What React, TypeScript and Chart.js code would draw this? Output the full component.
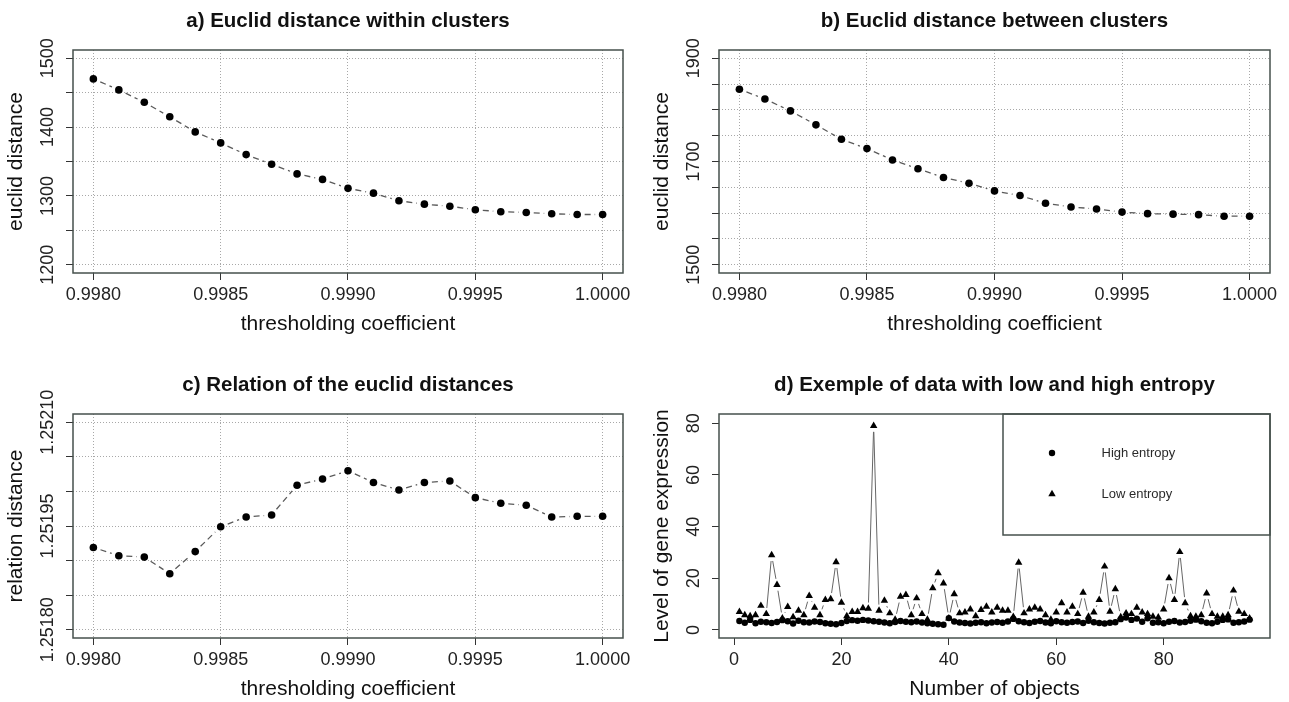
import React, { useEffect, useRef } from "react";
import { Chart, registerables } from "chart.js";

Chart.register(...registerables);

const FONT = '"Liberation Sans", Arial, Helvetica, sans-serif';

// ---------- data ----------
const thresholds = [
  0.998, 0.9981, 0.9982, 0.9983, 0.9984, 0.9985, 0.9986, 0.9987, 0.9988, 0.9989, 0.999,
  0.9991, 0.9992, 0.9993, 0.9994, 0.9995, 0.9996, 0.9997, 0.9998, 0.9999, 1.0,
];
const withinDistance = [
  1470, 1454, 1436, 1415, 1393, 1377, 1360, 1346, 1332, 1324, 1311, 1304, 1293, 1288, 1285,
  1280, 1277, 1276, 1274, 1273, 1273,
];
const betweenDistance = [
  1840, 1821, 1798, 1771, 1743, 1725, 1703, 1686, 1669, 1658, 1643, 1634, 1619, 1612, 1608,
  1602, 1599, 1598, 1597, 1594, 1594,
];
const relationDistance = [
  1.251919, 1.251907, 1.251905, 1.251881, 1.251913, 1.251949, 1.251963, 1.251966, 1.252009,
  1.252018, 1.25203, 1.252013, 1.252002, 1.252013, 1.252015, 1.251991, 1.251983, 1.25198,
  1.251963, 1.251964, 1.251964,
];

const objectIndex = [
  1, 2, 3, 4, 5, 6, 7, 8, 9, 10, 11, 12, 13, 14, 15, 16, 17, 18, 19, 20, 21, 22, 23, 24,
  25, 26, 27, 28, 29, 30, 31, 32, 33, 34, 35, 36, 37, 38, 39, 40, 41, 42, 43, 44, 45, 46, 47, 48,
  49, 50, 51, 52, 53, 54, 55, 56, 57, 58, 59, 60, 61, 62, 63, 64, 65, 66, 67, 68, 69, 70, 71, 72,
  73, 74, 75, 76, 77, 78, 79, 80, 81, 82, 83, 84, 85, 86, 87, 88, 89, 90, 91, 92, 93, 94, 95, 96,
];
const highEntropy = [
  3.5, 2.8, 3.9, 2.6, 3.2, 3.0, 2.7, 3.1, 3.8, 3.4, 2.5, 3.6, 3.0, 2.9, 3.3, 3.1, 2.6, 2.4, 2.2, 2.7,
  3.5, 3.8, 3.6, 3.9, 3.7, 3.4, 3.2, 2.9, 2.6, 3.1, 3.5, 3.2, 3.0, 3.3, 2.9, 2.6, 2.4, 2.2, 2.0, 4.6,
  3.3, 2.9, 2.7, 2.5, 2.8, 3.0, 2.6, 2.9, 3.1, 2.8, 3.3, 4.3, 3.4, 3.0, 2.7, 3.2, 3.5, 2.9, 2.6, 3.4,
  3.0, 2.8, 3.1, 3.3, 2.7, 3.6, 3.0, 2.7, 2.5, 2.8, 3.0, 4.2, 4.8, 3.9, 4.4, 3.2, 4.5, 2.8, 3.0, 2.6,
  3.2, 3.5, 2.9, 3.1, 3.6, 4.0, 3.4, 2.8, 2.6, 3.2, 3.9, 4.1, 2.8, 3.0, 3.3, 4.0,
];
const lowEntropy = [
  7.0, 5.8, 5.4, 5.8, 9.4, 6.2, 29.0, 17.5, 4.5, 9.0, 5.0, 7.5, 5.8, 13.2, 8.7, 5.8, 11.7, 12.0, 26.3, 10.6,
  5.4, 7.0, 7.0, 8.5, 8.3, 79.0, 7.5, 11.4, 6.5, 4.0, 12.9, 13.6, 5.8, 12.3, 6.2, 4.0, 16.2, 22.0, 18.1, 4.5,
  13.9, 6.5, 6.8, 8.0, 5.4, 7.8, 9.1, 6.8, 8.7, 7.5, 7.5, 5.1, 26.1, 6.5, 8.0, 8.7, 8.0, 5.8, 4.0, 6.8,
  10.4, 6.8, 9.1, 6.2, 14.5, 5.2, 6.8, 11.7, 24.6, 7.1, 15.8, 5.0, 6.5, 6.2, 8.7, 6.8, 6.2, 5.2, 4.9, 8.0,
  20.1, 11.7, 30.2, 10.4, 5.4, 5.2, 5.8, 14.2, 6.2, 5.2, 5.2, 5.8, 15.3, 7.1, 6.2, 4.5,
];

// ---------- axis ticks ----------
const thresholdTicks = [0.998, 0.9985, 0.999, 0.9995, 1.0];
const withinTicks = [1200, 1250, 1300, 1350, 1400, 1450, 1500];
const withinLabels = [1200, 1300, 1400, 1500];
const betweenTicks = [1500, 1550, 1600, 1650, 1700, 1750, 1800, 1850, 1900];
const betweenLabels = [1500, 1700, 1900];
const relationTicks = [1.2518, 1.25185, 1.2519, 1.25195, 1.252, 1.25205, 1.2521];
const relationLabels = [1.2518, 1.25195, 1.2521];
const objectTicks = [0, 20, 40, 60, 80];
const expressionTicks = [0, 20, 40, 60, 80];

// ---------- plugins ----------
const gapLinePlugin = {
  id: "gapLine",
  beforeDatasetsDraw(chart: any) {
    const ctx = chart.ctx;
    chart.data.datasets.forEach((ds: any, di: number) => {
      const cfg = ds.gapLine;
      if (!cfg) return;
      const pts = chart.getDatasetMeta(di).data;
      ctx.save();
      ctx.strokeStyle = cfg.color;
      ctx.lineWidth = cfg.width;
      ctx.setLineDash(cfg.dash || []);
      ctx.beginPath();
      for (let i = 0; i < pts.length - 1; i++) {
        const a = pts[i];
        const b = pts[i + 1];
        const dx = b.x - a.x;
        const dy = b.y - a.y;
        const d = Math.hypot(dx, dy);
        if (d <= 2 * cfg.gap) continue;
        const ux = dx / d;
        const uy = dy / d;
        ctx.moveTo(a.x + ux * cfg.gap, a.y + uy * cfg.gap);
        ctx.lineTo(b.x - ux * cfg.gap, b.y - uy * cfg.gap);
      }
      ctx.stroke();
      ctx.restore();
    });
  },
};

const plotBoxPlugin = {
  id: "plotBox",
  afterDraw(chart: any) {
    const { left, top, right, bottom } = chart.chartArea;
    const ctx = chart.ctx;
    ctx.save();
    ctx.strokeStyle = "#46504c";
    ctx.lineWidth = 1.5;
    ctx.strokeRect(left, top, right - left, bottom - top);
    ctx.restore();
  },
};

const rLegendPlugin = {
  id: "rLegend",
  afterDraw(chart: any, _args: any, opts: any) {
    if (!opts || !opts.display) return;
    const { right, top } = chart.chartArea;
    const ctx = chart.ctx;
    const L = right - opts.width;
    ctx.save();
    ctx.strokeStyle = "#46504c";
    ctx.lineWidth = 1.5;
    ctx.strokeRect(L, top, opts.width, opts.height);
    chart.data.datasets.forEach((ds: any, i: number) => {
      const y = top + opts.rowY[i];
      const x = L + opts.symbolX;
      ctx.fillStyle = "#000";
      ctx.beginPath();
      if (ds.pointStyle === "triangle") {
        const r = ds.pointRadius;
        for (let k = 0; k < 3; k++) {
          const ang = (k * 2 * Math.PI) / 3;
          const px = x + Math.sin(ang) * r;
          const py = y - Math.cos(ang) * r;
          if (k === 0) ctx.moveTo(px, py);
          else ctx.lineTo(px, py);
        }
        ctx.closePath();
      } else {
        ctx.arc(x, y, ds.pointRadius, 0, Math.PI * 2);
      }
      ctx.fill();
      ctx.fillStyle = "#2a2a2a";
      ctx.font = `${opts.fontSize}px ${FONT}`;
      ctx.textBaseline = "middle";
      ctx.textAlign = "left";
      ctx.fillText(ds.label, L + opts.textX, y);
    });
    ctx.restore();
  },
};

// ---------- panel definitions ----------
const near = (list: number[], v: number) => list.some((t) => Math.abs(t - v) < 1e-9);

const pairs = (xs: number[], ys: number[]) => xs.map((x, i) => ({ x, y: ys[i] }));

const dottedSeries = (label: string, ys: number[]) => ({
  label,
  data: pairs(thresholds, ys),
  pointStyle: "circle",
  pointRadius: 3.8,
  pointBackgroundColor: "#000",
  pointBorderColor: "#000",
  pointBorderWidth: 0,
  showLine: false,
  gapLine: { color: "#5a5a5a", width: 1.3, dash: [6, 4], gap: 7.5 },
});

type Panel = {
  key: string;
  title: string;
  xTitle: string;
  yTitle: string;
  left: number;
  top: number;
  width: number;
  height: number;
  yAxisWidth: number;
  padRight: number;
  xMin: number;
  xMax: number;
  yMin: number;
  yMax: number;
  xTicks: number[];
  xLabels: number[];
  yTicks: number[];
  yLabels: number[];
  xFmt: (v: number) => string;
  yFmt: (v: number) => string;
  grid: boolean;
  yTitlePad: number;
  yTickPad: number;
  datasets: any[];
  legend?: boolean;
};

const panels: Panel[] = [
  {
    key: "a",
    title: "a) Euclid distance within clusters",
    xTitle: "thresholding coefficient",
    yTitle: "euclid distance",
    left: 0,
    top: 0,
    width: 644,
    height: 337,
    yAxisWidth: 73,
    padRight: 21,
    xMin: 0.99792,
    xMax: 1.00008,
    yMin: 1188,
    yMax: 1512,
    xTicks: thresholdTicks,
    xLabels: thresholdTicks,
    yTicks: withinTicks,
    yLabels: withinLabels,
    xFmt: (v) => v.toFixed(4),
    yFmt: (v) => String(Math.round(v)),
    grid: true,
    yTitlePad: 3.4,
    yTickPad: -2,
    datasets: [dottedSeries("within", withinDistance)],
  },
  {
    key: "b",
    title: "b) Euclid distance between clusters",
    xTitle: "thresholding coefficient",
    yTitle: "euclid distance",
    left: 644,
    top: 0,
    width: 645,
    height: 337,
    yAxisWidth: 75,
    padRight: 19,
    xMin: 0.99792,
    xMax: 1.00008,
    yMin: 1484,
    yMax: 1916,
    xTicks: thresholdTicks,
    xLabels: thresholdTicks,
    yTicks: betweenTicks,
    yLabels: betweenLabels,
    xFmt: (v) => v.toFixed(4),
    yFmt: (v) => String(Math.round(v)),
    grid: true,
    yTitlePad: 5.4,
    yTickPad: -2,
    datasets: [dottedSeries("between", betweenDistance)],
  },
  {
    key: "c",
    title: "c) Relation of the euclid distances",
    xTitle: "thresholding coefficient",
    yTitle: "relation distance",
    left: 0,
    top: 364,
    width: 644,
    height: 338,
    yAxisWidth: 73,
    padRight: 21,
    xMin: 0.99792,
    xMax: 1.00008,
    yMin: 1.251788,
    yMax: 1.252112,
    xTicks: thresholdTicks,
    xLabels: thresholdTicks,
    yTicks: relationTicks,
    yLabels: relationLabels,
    xFmt: (v) => v.toFixed(4),
    yFmt: (v) => v.toFixed(5),
    grid: true,
    yTitlePad: 3.4,
    yTickPad: -14.5,
    datasets: [dottedSeries("relation", relationDistance)],
  },
  {
    key: "d",
    title: "d) Exemple of data with low and high entropy",
    xTitle: "Number of objects",
    yTitle: "Level of gene expression",
    left: 644,
    top: 364,
    width: 645,
    height: 338,
    yAxisWidth: 75,
    padRight: 19,
    xMin: -2.8,
    xMax: 99.8,
    yMin: -3.1,
    yMax: 83.6,
    xTicks: objectTicks,
    xLabels: objectTicks,
    yTicks: expressionTicks,
    yLabels: expressionTicks,
    xFmt: (v) => String(Math.round(v)),
    yFmt: (v) => String(Math.round(v)),
    grid: false,
    yTitlePad: 5.4,
    yTickPad: 8,
    legend: true,
    datasets: [
      {
        label: "High entropy",
        data: pairs(objectIndex, highEntropy),
        pointStyle: "circle",
        pointRadius: 3.2,
        pointBackgroundColor: "#000",
        pointBorderColor: "#000",
        pointBorderWidth: 0,
        showLine: false,
        order: 2,
        gapLine: { color: "#666", width: 1, dash: [], gap: 6 },
      },
      {
        label: "Low entropy",
        data: pairs(objectIndex, lowEntropy),
        pointStyle: "triangle",
        pointRadius: 4.3,
        pointBackgroundColor: "#000",
        pointBorderColor: "#000",
        pointBorderWidth: 0,
        showLine: false,
        order: 1,
        gapLine: { color: "#666", width: 1, dash: [], gap: 6 },
      },
    ],
  },
];

const GRID = "#a8a8a8";
const TICK_FONT = { family: FONT, size: 18 };
const AXIS_TITLE_FONT = { family: FONT, size: 21, lineHeight: 1.2 };

function buildConfig(p: Panel): any {
  return {
    type: "scatter",
    data: { datasets: p.datasets },
    options: {
      responsive: false,
      animation: false,
      events: [],
      layout: { padding: { left: 0, right: p.padRight, top: 0, bottom: 0 } },
      plugins: {
        legend: { display: false },
        tooltip: { enabled: false },
        title: {
          display: true,
          text: p.title,
          fullSize: false,
          color: "#111",
          font: { family: FONT, size: 20.5, weight: "bold", lineHeight: 1.2 },
          padding: { top: 9.4, bottom: 16 },
        },
        rLegend: {
          display: !!p.legend,
          width: 267,
          height: 121,
          symbolX: 49,
          textX: 98.5,
          rowY: [39, 80],
          fontSize: 13,
        },
      },
      scales: {
        x: {
          type: "linear",
          position: "bottom",
          min: p.xMin,
          max: p.xMax,
          afterBuildTicks: (s: any) => {
            s.ticks = p.xTicks.map((v) => ({ value: v }));
          },
          afterFit: (s: any) => {
            s.height = 64;
          },
          ticks: {
            autoSkip: false,
            minRotation: 0,
            maxRotation: 0,
            padding: 4.2,
            color: "#222",
            font: TICK_FONT,
            callback: (v: any) => (near(p.xLabels, Number(v)) ? p.xFmt(Number(v)) : ""),
          },
          grid: {
            display: true,
            drawOnChartArea: p.grid,
            color: GRID,
            lineWidth: 1,
            drawTicks: true,
            tickLength: 7,
            tickColor: "#333",
            tickWidth: 1,
          },
          border: { display: false, dash: [1, 2] },
          title: {
            display: true,
            text: p.xTitle,
            color: "#111",
            font: AXIS_TITLE_FONT,
            padding: { top: 0, bottom: 0 },
          },
        },
        y: {
          type: "linear",
          position: "left",
          min: p.yMin,
          max: p.yMax,
          afterBuildTicks: (s: any) => {
            s.ticks = p.yTicks.map((v) => ({ value: v }));
          },
          afterFit: (s: any) => {
            s.width = p.yAxisWidth;
          },
          ticks: {
            autoSkip: false,
            minRotation: 90,
            maxRotation: 90,
            crossAlign: "center",
            padding: p.yTickPad,
            color: "#222",
            font: TICK_FONT,
            callback: (v: any) => (near(p.yLabels, Number(v)) ? p.yFmt(Number(v)) : ""),
          },
          grid: {
            display: true,
            drawOnChartArea: p.grid,
            color: GRID,
            lineWidth: 1,
            drawTicks: true,
            tickLength: 7,
            tickColor: "#333",
            tickWidth: 1,
          },
          border: { display: false, dash: [1, 2] },
          title: {
            display: true,
            text: p.yTitle,
            color: "#111",
            font: AXIS_TITLE_FONT,
            padding: { top: p.yTitlePad, bottom: 0 },
          },
        },
      },
    },
    plugins: [gapLinePlugin, plotBoxPlugin, rLegendPlugin],
  };
}

function PanelChart({ panel }: { panel: Panel }) {
  const ref = useRef<HTMLCanvasElement | null>(null);
  useEffect(() => {
    if (!ref.current) return;
    const chart = new Chart(ref.current, buildConfig(panel));
    return () => chart.destroy();
  }, [panel]);
  return (
    <canvas
      ref={ref}
      width={panel.width}
      height={panel.height}
      style={{
        position: "absolute",
        left: panel.left,
        top: panel.top,
        width: panel.width,
        height: panel.height,
      }}
    />
  );
}

export default function App() {
  return (
    <div
      style={{
        position: "absolute",
        left: 0,
        top: 0,
        width: 1289,
        height: 702,
        background: "#ffffff",
        overflow: "hidden",
      }}
    >
      {panels.map((p) => (
        <PanelChart key={p.key} panel={p} />
      ))}
    </div>
  );
}
